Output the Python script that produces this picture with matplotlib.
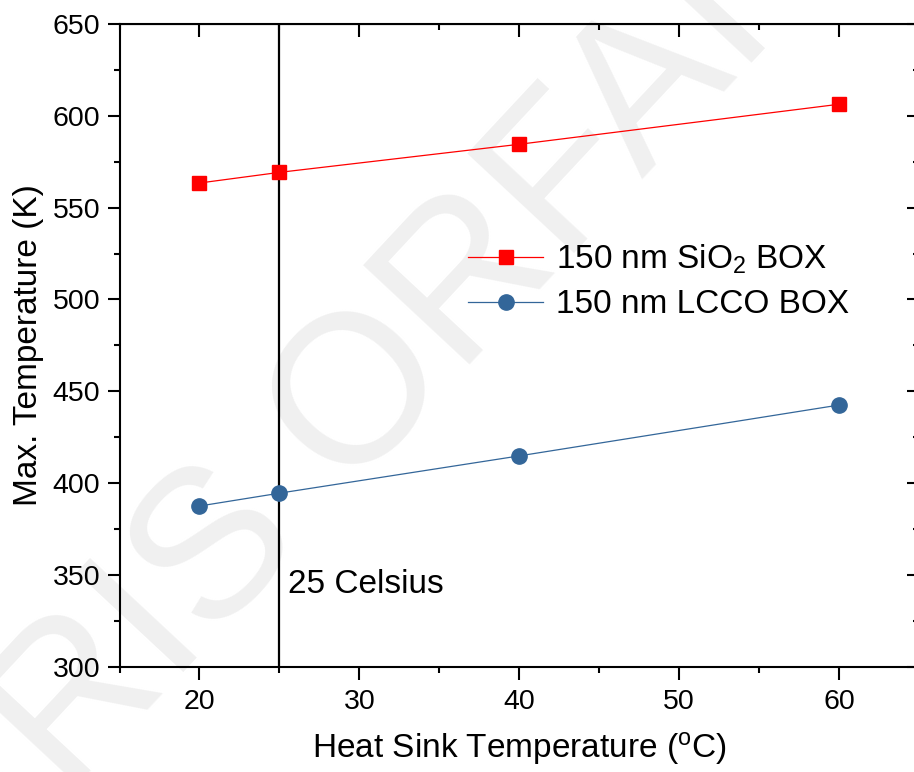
import matplotlib
matplotlib.use('Agg')
import matplotlib.pyplot as plt
from matplotlib.ticker import MultipleLocator

plt.rcParams['font.family'] = ['Liberation Sans', 'DejaVu Sans']
plt.rcParams['mathtext.fontset'] = 'custom'
plt.rcParams['mathtext.rm'] = 'Liberation Sans'
plt.rcParams['mathtext.it'] = 'Liberation Sans:italic'

# heat sink temperature (C) vs max device temperature (K)
heat_sink = [20, 25, 40, 60]
sio2_box = [563.4, 569.2, 584.5, 606.3]
lcco_box = [387.5, 394.5, 414.8, 442.5]

sio2_label = '150 nm SiO$_2$ BOX'
lcco_label = '150 nm LCCO BOX'
ref_temp = 25

W, H = 914, 772
fig = plt.figure(figsize=(W / 100, H / 100), dpi=100)
ax = fig.add_axes([119.5 / W, 105.3 / H, (919 - 119.5) / W, (748 - 105.3) / H])
ax.set_facecolor('none')

# faint diagonal watermark behind the plot
fig.text(335 / W, 1 - 430 / H, 'ARIS ORFAI', fontsize=152, color='#f0f0f0',
         rotation=47, rotation_mode='anchor', ha='center', va='center', zorder=-5)

ax.plot(heat_sink, sio2_box, color='#ff0000', lw=0.9, marker='s', ms=10,
        label=sio2_label, zorder=4)
ax.plot(heat_sink, lcco_box, color='#336699', lw=0.9, marker='o', ms=11,
        label=lcco_label, zorder=4)
ax.axvline(ref_temp, color='black', lw=1.6, zorder=3)
ax.text(25.55, 340, '25 Celsius', fontsize=24, ha='left', va='baseline')

ax.set_xlim(15, 65)
ax.set_ylim(300, 650)
ax.xaxis.set_major_locator(MultipleLocator(10))
ax.xaxis.set_minor_locator(MultipleLocator(5))
ax.yaxis.set_major_locator(MultipleLocator(50))
ax.yaxis.set_minor_locator(MultipleLocator(25))

for s in ax.spines.values():
    s.set_linewidth(1.5)
ax.tick_params(which='both', width=1.5, labelsize=20.5)
ax.tick_params(which='major', length=9, pad=5)
ax.tick_params(which='minor', length=4.5)
ax.tick_params(axis='x', which='major', pad=7)
ax.tick_params(axis='x', which='both', direction='out', top=False)
ax.tick_params(axis='y', which='both', direction='out', right=False)

# mirrored inward ticks on top and right
top = ax.secondary_xaxis('top')
top.xaxis.set_major_locator(MultipleLocator(10))
top.xaxis.set_minor_locator(MultipleLocator(5))
top.tick_params(which='both', direction='in', width=1.5, labeltop=False)
top.tick_params(which='major', length=9)
top.tick_params(which='minor', length=4.5)
right = ax.secondary_yaxis('right')
right.yaxis.set_major_locator(MultipleLocator(50))
right.yaxis.set_minor_locator(MultipleLocator(25))
right.tick_params(which='both', direction='in', width=1.5, labelright=False)
right.tick_params(which='major', length=9)
right.tick_params(which='minor', length=4.5)

ax.set_xlabel('Heat Sink Temperature ($^{\\rm o}$C)', fontsize=24, labelpad=11)
ax.set_ylabel('Max. Temperature (K)', fontsize=24, labelpad=6)

ax.legend(loc='upper left', bbox_to_anchor=(0.436, 0.66), frameon=False,
          fontsize=24, handlelength=2.25, handletextpad=0.4, labelspacing=0.4,
          borderpad=0, borderaxespad=0)

fig.savefig('out.png', dpi=100)
